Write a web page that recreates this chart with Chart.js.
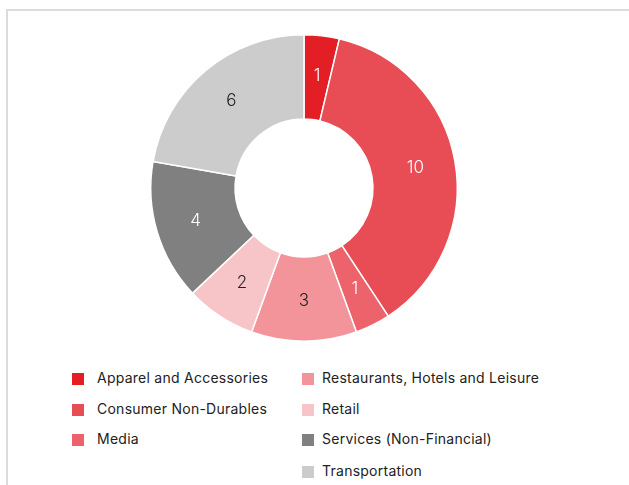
<!DOCTYPE html>
<html>
<head>
<meta charset="utf-8">
<script src="https://cdn.jsdelivr.net/npm/chart.js@4"></script>
<style>
  body { margin: 0; background: #fff; font-family: "Inter", "Noto Sans", sans-serif; }
  #frame {
    position: absolute; left: 6px; top: 9px; width: 700px; height: 600px;
    border-top: 2px solid #dcdcdc; border-left: 2px solid #dcdcdc;
  }
  #wrap { position: absolute; left: 144px; top: 28px; width: 320px; height: 320px; }
  .box { position: absolute; width: 12px; height: 12px; }
  .txt { position: absolute; font-size: 14px; line-height: 20px; color: #222; letter-spacing: 0.25px; white-space: nowrap; }
</style>
</head>
<body>
<div id="frame"></div>
<div id="wrap"><canvas id="donut" width="320" height="320"></canvas></div>
<div id="legend"></div>
<script>
// Sector counts
const sectors = [
  'Apparel and Accessories',
  'Consumer Non-Durables',
  'Media',
  'Restaurants, Hotels and Leisure',
  'Retail',
  'Services (Non-Financial)',
  'Transportation'
];
const counts = [1, 10, 1, 3, 2, 4, 6];
const sectorColors = ['#e31e25', '#e84c55', '#ec636b', '#f3949a', '#f7c4c8', '#808080', '#cccccc'];
const labelColors = ['#ffffff', '#ffffff', '#ffffff', '#222222', '#222222', '#ffffff', '#222222'];

document.addEventListener("DOMContentLoaded", function() {
    // values drawn in the middle of each ring segment
    const valueLabels = {
        id: 'valueLabels',
        afterDatasetsDraw(chart) {
            const ctx = chart.ctx;
            const meta = chart.getDatasetMeta(0);
            ctx.save();
            ctx.font = '300 17px Inter, "Noto Sans", sans-serif';
            ctx.textAlign = 'center';
            ctx.textBaseline = 'middle';
            meta.data.forEach((arc, i) => {
                const a = (arc.startAngle + arc.endAngle) / 2;
                const r = (arc.innerRadius + arc.outerRadius) / 2 + 2;
                ctx.fillStyle = labelColors[i];
                ctx.fillText(String(counts[i]), arc.x + Math.cos(a) * r, arc.y + Math.sin(a) * r);
            });
            ctx.restore();
        }
    };

    const ctx = document.getElementById('donut').getContext('2d');
    new Chart(ctx, {
        type: 'doughnut',
        data: {
            labels: sectors,
            datasets: [{
                data: counts,
                backgroundColor: sectorColors,
                borderColor: '#ffffff',
                borderWidth: 1.5,
                hoverOffset: 0,
                offset: 0
            }]
        },
        options: {
            responsive: false,
            animation: false,
            cutout: '45%',
            layout: { padding: 6 },
            plugins: {
                legend: { display: false },
                tooltip: { enabled: false }
            }
        },
        plugins: [valueLabels]
    });

    // two-column legend: first half down the left column, the rest on the right
    const legend = document.getElementById('legend');
    const split = Math.floor(sectors.length / 2);
    const rowY = [379, 409.5, 439.5, 472];
    sectors.forEach((name, i) => {
        const col = i < split ? 0 : 1;
        const row = col === 0 ? i : i - split;
        const box = document.createElement('div');
        box.className = 'box';
        box.style.background = sectorColors[i];
        box.style.left = (col === 0 ? 72 : 302) + 'px';
        box.style.top = (rowY[row] - 6) + 'px';
        const txt = document.createElement('div');
        txt.className = 'txt';
        txt.textContent = name;
        txt.style.left = (col === 0 ? 97 : 322) + 'px';
        txt.style.top = (rowY[row] - 11) + 'px';
        legend.appendChild(box);
        legend.appendChild(txt);
    });
});
</script>
</body>
</html>
